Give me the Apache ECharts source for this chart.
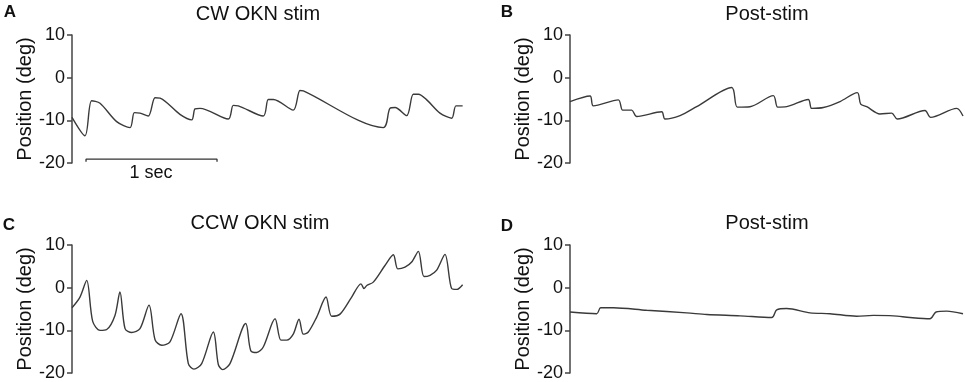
<!DOCTYPE html>
<html>
<head>
<meta charset="utf-8">
<script src="https://cdn.jsdelivr.net/npm/echarts@6/dist/echarts.min.js"></script>
<style>
  html, body { margin: 0; padding: 0; background: #fff; }
  #chart { width: 965px; height: 382px; }
</style>
</head>
<body>
<div id="chart"></div>
<script>
// time in seconds, position in degrees
const timeA = [0, 0.099, 0.150, 0.214, 0.341, 0.443, 0.476, 0.519, 0.582, 0.634, 0.672, 0.824, 0.914, 0.939, 0.977, 1.193, 1.231, 1.269, 1.460, 1.498, 1.537, 1.689, 1.740, 1.766, 2.376, 2.427, 2.466, 2.555, 2.605, 2.644, 2.708, 2.809, 2.898, 2.931, 2.982];
const posA = [-9.3, -13.6, -5.4, -6.0, -10.3, -11.7, -8.2, -8.3, -9.0, -4.7, -4.8, -8.6, -9.9, -7.3, -7.2, -9.7, -6.5, -6.6, -9.0, -5.1, -5.1, -7.6, -3.0, -3.1, -11.7, -7.2, -7.0, -8.9, -3.9, -3.9, -5.2, -8.3, -9.5, -6.6, -6.6];

const timeB = [0, 0.153, 0.178, 0.369, 0.402, 0.471, 0.509, 0.700, 0.725, 0.840, 0.967, 1.234, 1.277, 1.374, 1.552, 1.585, 1.654, 1.819, 1.845, 1.934, 2.061, 2.193, 2.219, 2.265, 2.366, 2.456, 2.498, 2.710, 2.753, 2.952, 3.0];
const posB = [-5.6, -4.3, -6.6, -5.2, -7.6, -7.6, -9.1, -8.0, -9.7, -8.9, -6.8, -2.3, -6.9, -6.8, -4.2, -6.9, -6.8, -5.1, -7.2, -7.0, -5.6, -3.5, -6.2, -6.8, -8.5, -8.3, -9.7, -7.7, -9.3, -7.2, -9.0];

const timeC = [0, 0.061, 0.112, 0.158, 0.214, 0.265, 0.328, 0.366, 0.405, 0.456, 0.519, 0.588, 0.634, 0.685, 0.748, 0.832, 0.888, 0.931, 0.990, 1.079, 1.117, 1.150, 1.206, 1.326, 1.364, 1.410, 1.460, 1.550, 1.595, 1.639, 1.689, 1.733, 1.766, 1.804, 1.868, 1.939, 1.982, 2.046, 2.135, 2.206, 2.229, 2.250, 2.300, 2.389, 2.453, 2.487, 2.542, 2.593, 2.644, 2.687, 2.733, 2.784, 2.847, 2.898, 2.937, 2.982];
const posC = [-4.7, -2.2, 1.7, -7.9, -10.0, -9.8, -6.5, -1.0, -9.6, -10.5, -9.6, -4.1, -12.2, -13.5, -12.7, -6.1, -17.8, -19.1, -17.8, -10.4, -18.0, -19.2, -17.8, -8.4, -14.7, -15.2, -13.9, -7.3, -12.3, -12.3, -10.9, -7.4, -10.9, -10.4, -6.9, -2.2, -6.7, -6.2, -2.2, 0.9, -0.2, 0.5, 1.3, 5.2, 7.7, 4.4, 4.8, 6.0, 8.5, 2.6, 2.9, 4.1, 7.8, -0.2, -0.4, 0.7];

const timeD = [0, 0.204, 0.234, 0.331, 0.585, 0.891, 1.044, 1.298, 1.540, 1.578, 1.654, 1.832, 1.985, 2.188, 2.315, 2.468, 2.595, 2.748, 2.794, 2.876, 3.0];
const posD = [-5.7, -6.1, -4.7, -4.7, -5.3, -5.9, -6.3, -6.6, -7.0, -5.2, -4.9, -5.9, -6.1, -6.7, -6.5, -6.6, -7.0, -7.3, -5.7, -5.5, -6.1];

// 1 sec scale bar under panel A
const scaleBarTime = [0.107, 0.107, 1.107, 1.107];
const scaleBarPos = [-19.7, -19.1, -19.1, -19.7];

const yTicks = [-20, -10, 0, 10];
const panelTitles = ['CW OKN stim', 'Post-stim', 'CCW OKN stim', 'Post-stim'];
const panelLetters = ['A', 'B', 'C', 'D'];

const FONT = 'Liberation Sans, Arial, sans-serif';
const INK = '#3a3a3a';

const zip = (xs, ys) => xs.map((x, i) => [x, ys[i]]);

const grids = [
  { left: 72, top: 35, width: 393, height: 128 },
  { left: 570, top: 35, width: 393, height: 128 },
  { left: 72, top: 245, width: 393, height: 128 },
  { left: 570, top: 245, width: 393, height: 128 }
];

const makeY = (i) => ({
  gridIndex: i,
  type: 'value',
  min: yTicks[0],
  max: yTicks[yTicks.length - 1],
  interval: 10,
  splitLine: { show: false },
  axisLine: { show: true, lineStyle: { color: '#444', width: 1.5 } },
  axisTick: { show: true, length: 5, lineStyle: { color: '#444', width: 1.5 } },
  axisLabel: { color: '#111', fontSize: 18, margin: 7, fontFamily: FONT },
  name: 'Position (deg)',
  nameLocation: 'middle',
  nameGap: 37,
  nameTextStyle: { color: '#111', fontSize: 20, fontFamily: FONT }
});

const makeX = (i) => ({
  gridIndex: i,
  type: 'value',
  min: 0,
  max: 3,
  show: false
});

const trace = (i, data) => ({
  type: 'line',
  xAxisIndex: i,
  yAxisIndex: i,
  data: data,
  showSymbol: false,
  smooth: 0.3,
  lineStyle: { color: INK, width: 1.4 },
  animation: false
});

// titles and panel letters
const titlePos = [[258, 14], [767, 14], [260, 223], [767, 223]];
const letterPos = [[10, 12], [507, 12], [9, 225], [507, 226]];
const graphics = [];
panelTitles.forEach((t, i) => {
  graphics.push({
    type: 'text', x: titlePos[i][0], y: titlePos[i][1],
    style: { text: t, font: '20px ' + FONT, fill: '#111', align: 'center', verticalAlign: 'middle', textAlign: 'center', textVerticalAlign: 'middle' }
  });
  graphics.push({
    type: 'text', x: letterPos[i][0], y: letterPos[i][1],
    style: { text: panelLetters[i], font: 'bold 17px ' + FONT, fill: '#111', align: 'center', verticalAlign: 'middle', textAlign: 'center', textVerticalAlign: 'middle' }
  });
});
graphics.push({
  type: 'text', x: 151, y: 173,
  style: { text: '1 sec', font: '18px ' + FONT, fill: '#111', align: 'center', verticalAlign: 'middle', textAlign: 'center', textVerticalAlign: 'middle' }
});

const chart = echarts.init(document.getElementById('chart'), null, { renderer: 'canvas' });
chart.setOption({
  backgroundColor: '#fff',
  animation: false,
  grid: grids,
  xAxis: [0, 1, 2, 3].map(makeX),
  yAxis: [0, 1, 2, 3].map(makeY),
  series: [
    trace(0, zip(timeA, posA)),
    trace(1, zip(timeB, posB)),
    trace(2, zip(timeC, posC)),
    trace(3, zip(timeD, posD)),
    {
      type: 'line', xAxisIndex: 0, yAxisIndex: 0,
      data: zip(scaleBarTime, scaleBarPos),
      showSymbol: false,
      lineStyle: { color: '#333', width: 1.3 },
      animation: false
    }
  ],
  graphic: graphics
});
</script>
</body>
</html>
